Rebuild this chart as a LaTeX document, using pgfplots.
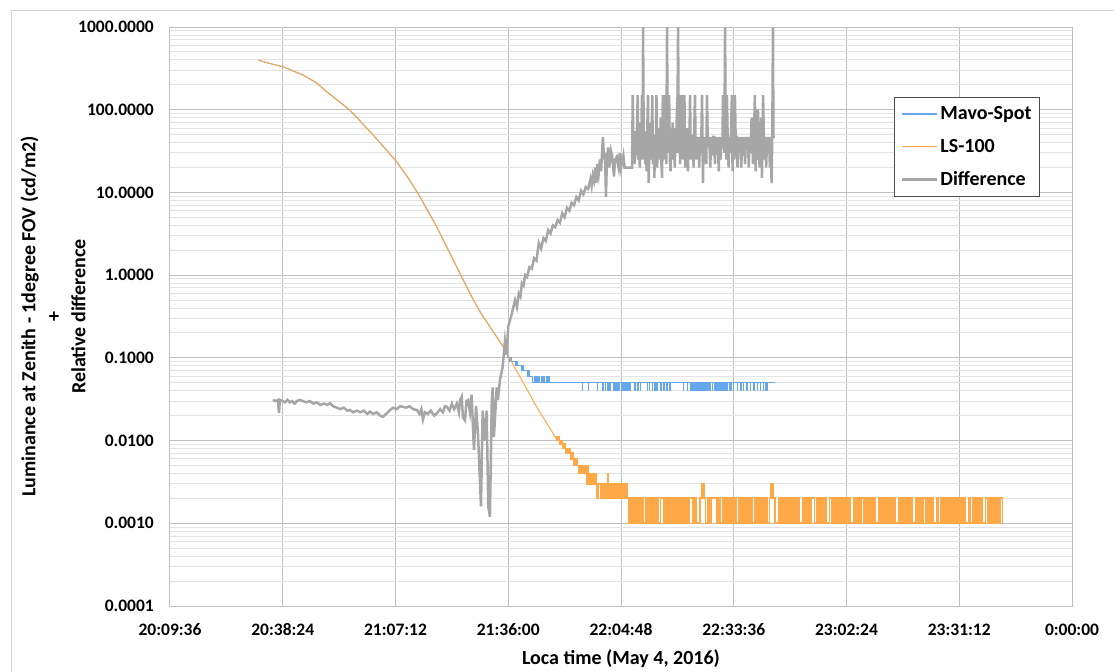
\documentclass[border=0pt]{standalone}
\usepackage{fontspec}
\setmainfont{Carlito}
\usepackage{pgfplots}
\pgfplotsset{compat=1.18}
\definecolor{mavo}{RGB}{102,166,236}
\definecolor{lsc}{RGB}{255,168,72}
\definecolor{diffc}{RGB}{166,166,166}
\begin{document}
\begin{tikzpicture}
\path[use as bounding box] (-170pt,-66pt) rectangle (944pt,606pt);
\draw[gray!35, line width=1pt] (-158pt,-66pt) -- (-158pt,595pt) -- (944pt,595pt);
\begin{axis}[
  at={(0pt,0pt)}, anchor=south west,
  scale only axis, width=902pt, height=579pt,
  ymode=log, log basis y=10,
  xmin=20.16, xmax=24, ymin=0.0001, ymax=1000,
  xtick={20.16,20.64,21.12,21.6,22.08,22.56,23.04,23.52,24},
  xticklabels={20:09:36,20:38:24,21:07:12,21:36:00,22:04:48,22:33:36,23:02:24,23:31:12,0:00:00},
  ytick={0.0001,0.001,0.01,0.1,1,10,100,1000},
  yticklabels={0.0001,0.0010,0.0100,0.1000,1.0000,10.0000,100.0000,1000.0000},
  minor ytick={0.0002,0.0003,0.0004,0.0005,0.0006,0.0007,0.0008,0.0009,
    0.002,0.003,0.004,0.005,0.006,0.007,0.008,0.009,
    0.02,0.03,0.04,0.05,0.06,0.07,0.08,0.09,
    0.2,0.3,0.4,0.5,0.6,0.7,0.8,0.9,
    2,3,4,5,6,7,8,9,20,30,40,50,60,70,80,90,
    200,300,400,500,600,700,800,900},
  xmajorgrids, ymajorgrids, yminorgrids,
  major grid style={draw=gray!50, line width=1pt},
  minor grid style={draw=gray!22, line width=1pt},
  axis line style={draw=gray!50, line width=1pt},
  tick style={draw=none}, major tick length=0pt, minor tick length=0pt,
  yticklabel style={anchor=east, inner sep=0pt, xshift=-16pt, font=\fontsize{17.5}{20}\selectfont\bfseries},
  xticklabel style={anchor=center, inner sep=0pt, yshift=-24pt, font=\fontsize{17.5}{20}\selectfont\bfseries},
  xlabel={Loca time (May 4, 2016)},
  xlabel style={at={(axis description cs:0.5,0)}, anchor=center, yshift=-53pt, font=\fontsize{20}{25}\selectfont\bfseries},
  ylabel={Luminance at Zenith - 1degree FOV (cd/m2)\\+\\Relative difference},
  ylabel style={at={(axis description cs:-0.1297,0.5)}, anchor=center, align=center, font=\fontsize{20}{25}\selectfont\bfseries},
  legend style={at={(0.8027,0.879)}, anchor=north west, draw=black!70, line width=0.8pt, fill=white,
    font=\fontsize{20}{24}\selectfont\bfseries, row sep=14pt, inner xsep=6pt, inner ysep=7pt},
  legend cell align=left,
  legend image code/.code={\draw[#1] (0pt,0pt) -- (35pt,0pt);},
]
\addlegendimage{draw=mavo, line width=1.5pt}
\addlegendentry{Mavo-Spot}
\addlegendimage{draw=lsc, line width=1.5pt}
\addlegendentry{LS-100}
\addlegendimage{draw=diffc, line width=3pt}
\addlegendentry{Difference}
% Mavo-Spot, smooth part
\addplot[mavo, line width=1pt, forget plot] coordinates {
(20.535,400) (20.58,365) (20.641,331) (20.69,290) (20.726,263) (20.78,215) (20.827,165)
(20.926,99) (21.025,49.4) (21.125,23.5) (21.175,14.8) (21.224,8.9) (21.295,3.85) (21.366,1.52)
(21.437,0.60) (21.48,0.36) (21.522,0.238) (21.579,0.136)
};
% Mavo-Spot, quantised part
\addplot[mavo, line width=1pt, const plot, forget plot] coordinates {
(21.579,0.13) (21.588,0.11) (21.595,0.1) (21.607,0.09) (21.611,0.1) (21.615,0.09) (21.629,0.08)
(21.634,0.09) (21.638,0.08) (21.658,0.07) (21.662,0.08) (21.666,0.07) (21.684,0.06) (21.688,0.07)
(21.692,0.06) (21.705,0.05) (21.71,0.06) (21.714,0.05) (21.72,0.06) (21.724,0.05) (21.73,0.06)
(21.735,0.05) (21.74,0.06) (21.745,0.05) (21.752,0.06) (21.756,0.05) (21.762,0.06) (21.766,0.05)
(21.772,0.06) (21.776,0.05)
(21.914,0.04) (21.917,0.05) (21.940,0.04) (21.943,0.05) (21.978,0.04) (21.981,0.05)
(22.003,0.04) (22.006,0.05) (22.012,0.04) (22.015,0.05) (22.022,0.04) (22.025,0.05) (22.033,0.04) (22.036,0.05)
(22.046,0.04) (22.049,0.05) (22.052,0.04) (22.055,0.05) (22.058,0.04) (22.061,0.05) (22.066,0.04) (22.069,0.05)
(22.072,0.04) (22.075,0.05) (22.080,0.04) (22.083,0.05) (22.088,0.04) (22.091,0.05) (22.095,0.04) (22.098,0.05)
(22.104,0.04) (22.107,0.05) (22.111,0.04) (22.114,0.05) (22.118,0.04) (22.121,0.05)
(22.139,0.04) (22.142,0.05) (22.150,0.04) (22.153,0.05) (22.161,0.04) (22.164,0.05)
(22.191,0.04) (22.194,0.05) (22.200,0.04) (22.203,0.05) (22.212,0.04) (22.215,0.05) (22.222,0.04) (22.225,0.05)
(22.232,0.04) (22.235,0.05) (22.248,0.04) (22.251,0.05) (22.262,0.04) (22.265,0.05) (22.275,0.04) (22.278,0.05)
(22.288,0.04) (22.291,0.05) (22.344,0.04) (22.347,0.05) (22.361,0.04) (22.364,0.05)
(22.374,0.04) (22.377,0.05) (22.382,0.04) (22.385,0.05) (22.390,0.04) (22.393,0.05) (22.398,0.04) (22.401,0.05)
(22.406,0.04) (22.409,0.05) (22.414,0.04) (22.417,0.05) (22.422,0.04) (22.425,0.05) (22.430,0.04) (22.433,0.05)
(22.437,0.04) (22.440,0.05) (22.445,0.04) (22.448,0.05) (22.453,0.04) (22.456,0.05) (22.460,0.04) (22.463,0.05)
(22.468,0.04) (22.471,0.05) (22.476,0.04) (22.479,0.05) (22.484,0.04) (22.487,0.05) (22.492,0.04) (22.495,0.05)
(22.500,0.04) (22.503,0.05) (22.508,0.04) (22.511,0.05) (22.516,0.04) (22.519,0.05) (22.524,0.04) (22.527,0.05)
(22.532,0.04) (22.535,0.05) (22.540,0.04) (22.543,0.05) (22.548,0.04) (22.551,0.05) (22.557,0.04) (22.560,0.05)
(22.574,0.04) (22.577,0.05) (22.590,0.04) (22.593,0.05) (22.600,0.04) (22.603,0.05) (22.615,0.04) (22.618,0.05)
(22.630,0.04) (22.633,0.05) (22.645,0.04) (22.648,0.05) (22.660,0.04) (22.663,0.05) (22.672,0.04) (22.675,0.05)
(22.685,0.04) (22.688,0.05) (22.695,0.04) (22.698,0.05) (22.702,0.04) (22.705,0.05) (22.737,0.05)
};
% LS-100, smooth part
\addplot[lsc, line width=1pt, forget plot] coordinates {
(20.535,400) (20.58,365) (20.641,331) (20.69,290) (20.726,263) (20.78,215) (20.827,165)
(20.926,99) (21.025,49.4) (21.125,23.5) (21.175,14.8) (21.224,8.9) (21.295,3.85) (21.366,1.52)
(21.437,0.60) (21.48,0.36) (21.522,0.238) (21.579,0.136) (21.60,0.106) (21.625,0.079)
(21.65,0.059) (21.685,0.039) (21.721,0.0256) (21.755,0.0178) (21.79,0.0123) (21.80,0.011)
};
% LS-100, quantised part
\addplot[lsc, line width=1.8pt, const plot, forget plot] coordinates {
(21.800,0.011) (21.808,0.010) (21.814,0.011) (21.818,0.010) (21.822,0.009) (21.826,0.010) (21.830,0.009)
(21.834,0.008) (21.838,0.009) (21.842,0.008) (21.846,0.007) (21.850,0.008) (21.854,0.007) (21.858,0.008)
(21.862,0.007) (21.866,0.006) (21.870,0.007) (21.874,0.006) (21.878,0.005) (21.882,0.006) (21.886,0.005)
(21.890,0.006) (21.894,0.005) (21.900,0.004) (21.905,0.005) (21.910,0.004) (21.915,0.005) (21.920,0.004)
(21.925,0.005) (21.930,0.004) (21.935,0.003) (21.938,0.005) (21.941,0.004) (21.945,0.003) (21.950,0.004)
(21.955,0.003) (21.960,0.004) (21.965,0.003) (21.970,0.004) (21.975,0.003) (21.978,0.002) (21.981,0.003)
(21.990,0.003) (21.995,0.002) (22.000,0.003) (22.006,0.002) (22.012,0.003) (22.018,0.002) (22.024,0.004)
(22.027,0.003) (22.032,0.002) (22.038,0.003) (22.044,0.002) (22.050,0.003) (22.056,0.002) (22.062,0.003)
(22.068,0.002) (22.074,0.003) (22.080,0.002) (22.086,0.003) (22.092,0.002) (22.098,0.003)
(22.104,0.002) (22.112,0.001) (22.120,0.002) (22.128,0.001) (22.136,0.002) (22.144,0.001) (22.152,0.002)
(22.160,0.001) (22.168,0.002) (22.176,0.001) (22.184,0.002) (22.192,0.001) (22.200,0.002) (22.208,0.001)
(22.216,0.002) (22.224,0.001) (22.232,0.002) (22.240,0.001) (22.248,0.002) (22.256,0.002) (22.264,0.001)
(22.272,0.002) (22.280,0.001) (22.288,0.002) (22.296,0.001) (22.304,0.002) (22.312,0.001) (22.320,0.002)
(22.328,0.001) (22.336,0.002) (22.344,0.001) (22.352,0.002) (22.360,0.001) (22.368,0.002) (22.376,0.002)
(22.384,0.001) (22.392,0.002) (22.400,0.001) (22.408,0.001) (22.416,0.002) (22.424,0.003) (22.432,0.002)
(22.440,0.001) (22.448,0.002) (22.456,0.001) (22.464,0.002) (22.472,0.002) (22.480,0.002) (22.488,0.001)
(22.496,0.002) (22.504,0.001) (22.512,0.002) (22.520,0.001) (22.528,0.002) (22.536,0.001) (22.544,0.002)
(22.552,0.001) (22.560,0.002) (22.568,0.001) (22.576,0.001) (22.584,0.002) (22.592,0.001) (22.600,0.002)
(22.608,0.001) (22.616,0.002) (22.624,0.001) (22.632,0.002) (22.640,0.001) (22.648,0.002) (22.656,0.001)
(22.664,0.002) (22.672,0.001) (22.680,0.002) (22.688,0.001) (22.696,0.002) (22.704,0.001) (22.712,0.002)
(22.720,0.003) (22.728,0.002) (22.736,0.001) (22.744,0.001) (22.752,0.002) (22.760,0.001) (22.768,0.002)
(22.776,0.001) (22.784,0.002) (22.792,0.001) (22.800,0.002) (22.808,0.001) (22.816,0.002) (22.824,0.001)
(22.832,0.002) (22.840,0.001) (22.848,0.001) (22.856,0.002) (22.864,0.001) (22.872,0.002) (22.880,0.001)
(22.888,0.002) (22.896,0.002) (22.904,0.001) (22.912,0.002) (22.920,0.001) (22.928,0.002) (22.936,0.001)
(22.944,0.002) (22.952,0.001) (22.960,0.001) (22.968,0.002) (22.976,0.001) (22.984,0.002) (22.992,0.001)
(23.000,0.002) (23.008,0.001) (23.016,0.002) (23.024,0.001) (23.032,0.002) (23.040,0.001) (23.048,0.002)
(23.056,0.001) (23.064,0.001) (23.072,0.002) (23.080,0.001) (23.088,0.002) (23.096,0.001) (23.104,0.002)
(23.112,0.001) (23.120,0.002) (23.128,0.001) (23.136,0.002) (23.144,0.001) (23.152,0.002) (23.160,0.001)
(23.168,0.001) (23.176,0.002) (23.184,0.001) (23.192,0.002) (23.200,0.001) (23.208,0.002) (23.216,0.001)
(23.224,0.002) (23.232,0.001) (23.240,0.002) (23.248,0.001) (23.256,0.001) (23.264,0.002) (23.272,0.001)
(23.280,0.002) (23.288,0.001) (23.296,0.002) (23.304,0.001) (23.312,0.002) (23.320,0.001) (23.328,0.001)
(23.336,0.002) (23.344,0.001) (23.352,0.002) (23.360,0.001) (23.368,0.002) (23.376,0.001) (23.384,0.002)
(23.392,0.001) (23.400,0.002) (23.408,0.001) (23.416,0.001) (23.424,0.002) (23.432,0.001) (23.440,0.002)
(23.448,0.001) (23.456,0.002) (23.464,0.001) (23.472,0.002) (23.480,0.001) (23.488,0.002) (23.496,0.001)
(23.504,0.002) (23.512,0.001) (23.520,0.002) (23.528,0.001) (23.536,0.002) (23.544,0.001) (23.552,0.001)
(23.560,0.002) (23.568,0.001) (23.576,0.002) (23.584,0.001) (23.592,0.002) (23.600,0.001) (23.608,0.002)
(23.616,0.001) (23.624,0.001) (23.632,0.002) (23.640,0.001) (23.648,0.002) (23.656,0.001) (23.664,0.002)
(23.672,0.001) (23.680,0.002) (23.688,0.001) (23.696,0.002) (23.704,0.001)
};
% Relative difference
\addplot[diffc, line width=2.5pt, forget plot] coordinates {
(20.598,0.031) (20.610,0.030) (20.620,0.031) (20.624,0.0215) (20.628,0.031) (20.640,0.030) (20.650,0.029)
(20.660,0.031) (20.670,0.029) (20.680,0.030) (20.690,0.028) (20.700,0.030) (20.712,0.031) (20.726,0.030)
(20.740,0.029) (20.755,0.030) (20.770,0.028) (20.785,0.029) (20.800,0.027) (20.815,0.028) (20.830,0.027)
(20.841,0.0284) (20.855,0.026) (20.870,0.025) (20.885,0.024) (20.900,0.025) (20.915,0.023) (20.926,0.0234)
(20.940,0.022) (20.955,0.023) (20.970,0.022) (20.985,0.023) (21.000,0.021) (21.011,0.0224) (21.025,0.021)
(21.040,0.022) (21.055,0.020) (21.067,0.0194) (21.080,0.021) (21.097,0.0234) (21.110,0.025) (21.125,0.024)
(21.140,0.026) (21.152,0.0256) (21.165,0.025) (21.180,0.026) (21.195,0.024) (21.211,0.0234) (21.222,0.021)
(21.230,0.024) (21.237,0.018) (21.245,0.022) (21.258,0.021) (21.270,0.023) (21.285,0.020) (21.297,0.0215)
(21.310,0.024) (21.322,0.022) (21.330,0.026) (21.339,0.0256) (21.350,0.023) (21.360,0.028) (21.370,0.024)
(21.381,0.028) (21.390,0.022) (21.395,0.031) (21.402,0.034) (21.407,0.019) (21.416,0.0175) (21.422,0.030)
(21.429,0.031) (21.437,0.022) (21.444,0.036) (21.454,0.0077) (21.463,0.026) (21.471,0.0123) (21.484,0.0016)
(21.491,0.023) (21.501,0.010) (21.508,0.023) (21.515,0.0016) (21.522,0.0012) (21.530,0.031) (21.534,0.044)
(21.539,0.011) (21.551,0.044) (21.556,0.031) (21.565,0.055) (21.576,0.077) (21.586,0.16) (21.593,0.11)
(21.600,0.24) (21.615,0.34) (21.629,0.5) (21.637,0.41) (21.645,0.6) (21.652,0.55) (21.658,0.8) (21.665,0.75)
(21.672,1.0) (21.68,0.95) (21.69,1.25) (21.70,1.2) (21.71,1.6) (21.72,1.5) (21.73,2.45) (21.74,2.1)
(21.75,2.8) (21.76,2.6) (21.77,3.5) (21.78,3.2) (21.79,4.0) (21.80,3.8) (21.81,4.6) (21.82,4.3) (21.83,5.6)
(21.84,5.0) (21.85,6.5) (21.86,6.0) (21.87,7.5) (21.88,7.0) (21.89,8.8) (21.90,8.0) (21.91,10.5) (21.92,9.5)
(21.93,11.6) (21.94,11.0) (21.95,14.5) (21.955,12) (21.96,16) (21.965,14) (21.97,20) (21.975,13) (21.98,22)
(21.985,17) (21.99,25) (21.995,18) (22.003,47) (22.008,25) (22.012,30) (22.016,8.8) (22.02,25) (22.025,35)
(22.03,20) (22.037,32) (22.042,28) (22.05,15.6) (22.055,25) (22.062,27) (22.07,20) (22.075,30) (22.08,20)
(22.09,28) (22.095,20) (22.105,20) (22.115,20) (22.127,20)
(22.130,150) (22.133,25) (22.136,55) (22.139,22) (22.142,40) (22.145,28) (22.148,60) (22.151,150) (22.154,25)
(22.157,45) (22.160,20) (22.163,70) (22.166,30) (22.169,150) (22.172,25) (22.174,1000) (22.177,30) (22.180,55)
(22.183,22) (22.186,40) (22.189,18) (22.192,60) (22.195,150) (22.198,13) (22.201,45) (22.204,25) (22.207,70)
(22.210,30) (22.213,150) (22.216,22) (22.219,50) (22.222,15) (22.225,40) (22.228,25) (22.231,150) (22.234,20)
(22.237,60) (22.240,25) (22.243,45) (22.246,30) (22.249,80) (22.252,22) (22.255,15) (22.258,150) (22.261,25)
(22.264,55) (22.267,30) (22.270,150) (22.273,22) (22.276,1000) (22.279,30) (22.282,60) (22.285,150) (22.288,25)
(22.291,18) (22.294,50) (22.297,35) (22.300,70) (22.303,25) (22.306,45) (22.309,20) (22.312,60) (22.315,30)
(22.318,100) (22.321,150) (22.323,1000) (22.326,30) (22.329,55) (22.332,22) (22.335,150) (22.338,30) (22.341,150)
(22.344,25) (22.347,60) (22.350,150) (22.353,20) (22.356,45) (22.359,30) (22.362,60) (22.365,18) (22.368,40)
(22.371,35) (22.374,150) (22.377,25) (22.380,50) (22.383,30) (22.386,47) (22.389,20) (22.392,60) (22.395,150)
(22.398,30) (22.401,25) (22.404,47) (22.407,35) (22.410,47) (22.413,20) (22.416,47) (22.419,30) (22.422,47)
(22.425,150) (22.429,13) (22.432,47) (22.436,30) (22.440,47) (22.443,22) (22.446,150) (22.449,47) (22.452,35)
(22.456,47) (22.460,20) (22.464,47) (22.468,28) (22.472,47) (22.476,47) (22.480,22) (22.484,47) (22.488,30)
(22.492,47) (22.496,18) (22.500,47) (22.504,25) (22.508,47) (22.512,35) (22.514,150) (22.517,47) (22.520,30)
(22.523,1000) (22.526,47) (22.529,25) (22.531,150) (22.534,47) (22.538,20) (22.541,47) (22.544,30) (22.548,47)
(22.552,150) (22.555,18) (22.558,47) (22.562,25) (22.565,150) (22.568,47) (22.572,47) (22.576,20) (22.580,47)
(22.584,30) (22.588,47) (22.592,20) (22.596,47) (22.600,28) (22.604,47) (22.608,22) (22.612,47) (22.616,35)
(22.620,47) (22.624,20) (22.628,47) (22.632,30) (22.636,80) (22.639,47) (22.642,22) (22.646,47) (22.650,150)
(22.653,18) (22.656,47) (22.660,25) (22.663,100) (22.666,47) (22.670,20) (22.674,47) (22.677,80) (22.680,15)
(22.685,150) (22.688,47) (22.691,25) (22.694,47) (22.698,20) (22.702,47) (22.706,30) (22.710,47) (22.714,20)
(22.718,47) (22.721,13) (22.724,47) (22.727,1000) (22.729,47) (22.735,47)
};
\end{axis}
\end{tikzpicture}
\end{document}
